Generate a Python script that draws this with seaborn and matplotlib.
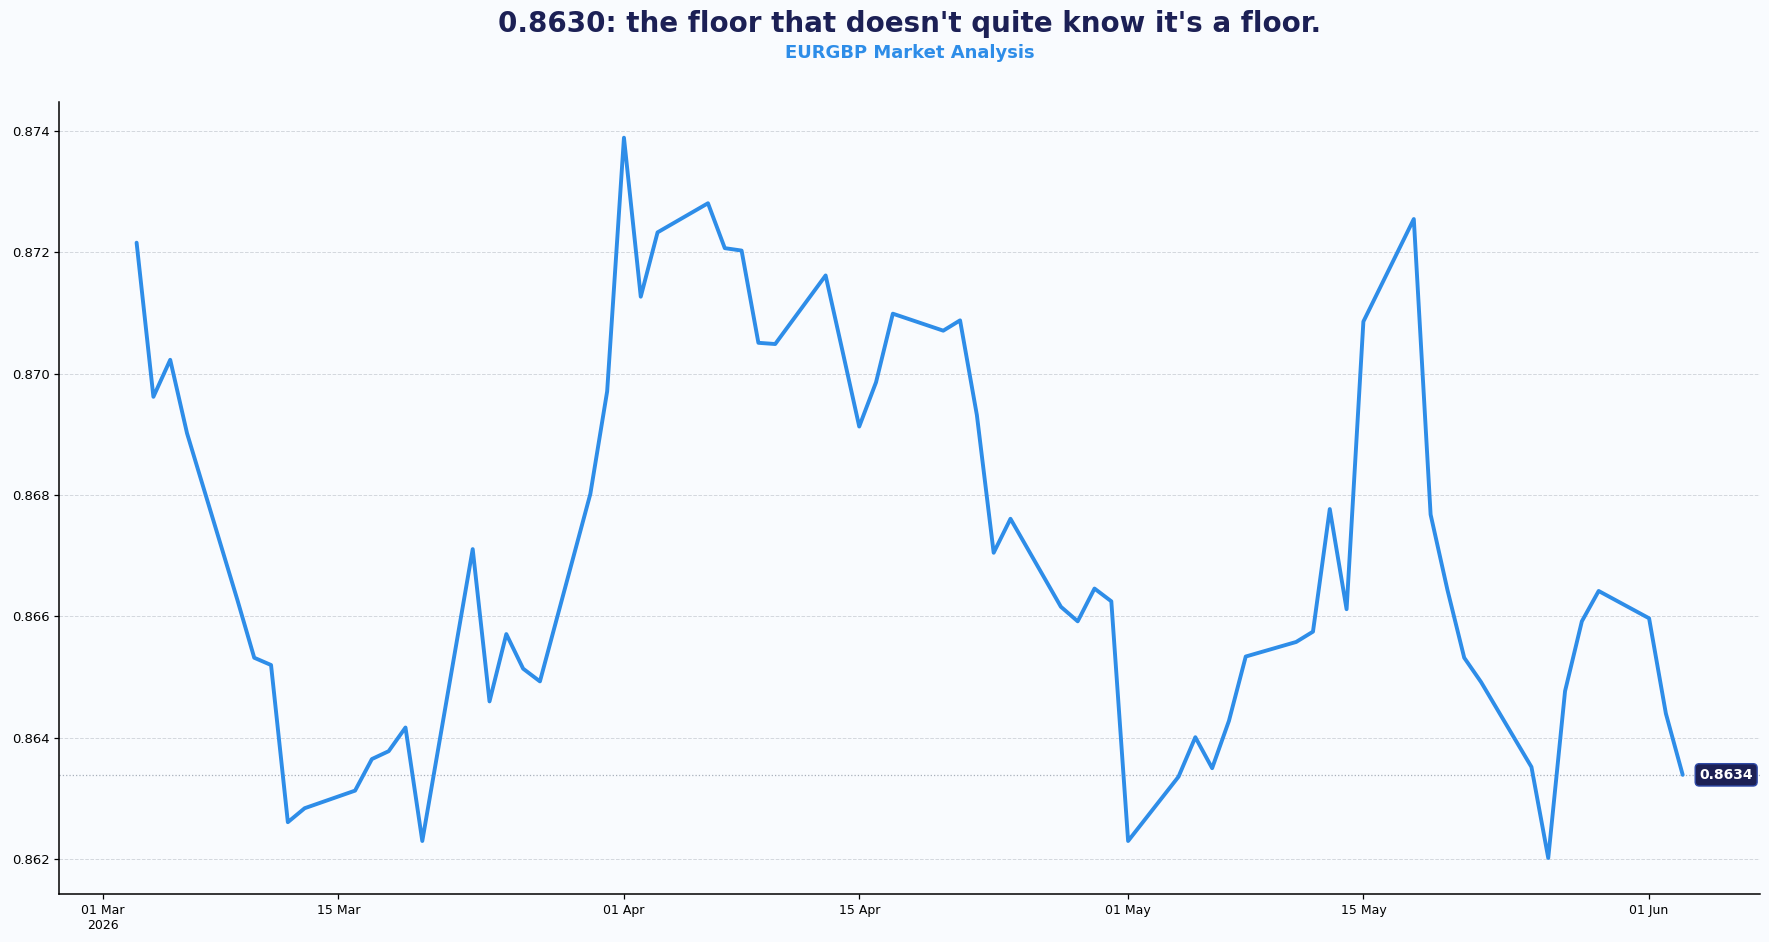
import numpy as np
import pandas as pd
import matplotlib
matplotlib.use("Agg")
import matplotlib.pyplot as plt
import matplotlib.dates as mdates
import seaborn as sns

# ---- data ----
dates = pd.bdate_range("2026-03-03", "2026-06-03")
rates = [
    0.87216, 0.86962, 0.87023, 0.86902,
    0.86627, 0.86532, 0.86520, 0.86261, 0.86284,
    0.86313, 0.86365, 0.86378, 0.86417, 0.86230,
    0.86711, 0.86460, 0.86571, 0.86514, 0.86493,
    0.86802, 0.86971, 0.87389, 0.87127, 0.87233,
    0.87281, 0.87207, 0.87203, 0.87051, 0.87049,
    0.87162, 0.87038, 0.86913, 0.86986, 0.87099,
    0.87071, 0.87088, 0.86932, 0.86705, 0.86761,
    0.86616, 0.86592, 0.86646, 0.86625, 0.86230,
    0.86336, 0.86401, 0.86350, 0.86428, 0.86534,
    0.86558, 0.86575, 0.86777, 0.86612, 0.87086,
    0.87255, 0.86768, 0.86644, 0.86532, 0.86492,
    0.86352, 0.86202, 0.86477, 0.86592, 0.86642,
    0.86597, 0.86440, 0.86339,
]
y_ticks = [0.862, 0.864, 0.866, 0.868, 0.870, 0.872, 0.874]
title = "0.8630: the floor that doesn't quite know it's a floor."
subtitle = "EURGBP Market Analysis"
last_label = "0.8634"

df = pd.DataFrame({"date": dates, "rate": rates})

# ---- style ----
BG = "#f9fbfe"
LINE = "#2e8de8"
NAVY = "#1c2055"

sns.set_theme(style="white")
plt.rcParams["font.family"] = ["DejaVu Sans"]

fig = plt.figure(figsize=(17.69, 9.42), dpi=100, facecolor=BG)
ax_pos = [0.03352, 0.05096, 0.96139, 0.84108]
ax = fig.add_axes(ax_pos)
ax.set_facecolor(BG)

sns.lineplot(data=df, x="date", y="rate", ax=ax, color=LINE, linewidth=2.8)

last_val = df["rate"].iloc[-1]
ax.axhline(last_val, color="#a9b0bb", linestyle=":", linewidth=0.9, zorder=1)

ax.annotate(last_label, xy=(df["date"].iloc[-1], last_val), xytext=(12, 0),
            textcoords="offset points", ha="left", va="center",
            fontsize=10, fontweight="bold", color="white",
            bbox=dict(boxstyle="round,pad=0.3", facecolor=NAVY,
                      edgecolor="#2f4aa8", linewidth=1))

ax.set_yticks(y_ticks)
ax.yaxis.set_major_formatter(matplotlib.ticker.FormatStrFormatter("%.3f"))
ax.grid(axis="y", color="#d3d7dd", linestyle="--", linewidth=0.7)
ax.grid(axis="x", visible=False)

ax.xaxis.set_major_locator(mdates.DayLocator(bymonthday=[1, 15]))

def fmt(x, pos):
    d = mdates.num2date(x)
    s = d.strftime("%d %b")
    if pos == 0:
        s += "\n" + d.strftime("%Y")
    return s

ax.xaxis.set_major_formatter(matplotlib.ticker.FuncFormatter(fmt))

ax.set_xlabel("")
ax.set_ylabel("")
for side in ["top", "right"]:
    ax.spines[side].set_visible(False)
for side in ["left", "bottom"]:
    ax.spines[side].set_color("black")
    ax.spines[side].set_linewidth(1.1)
ax.tick_params(axis="y", which="major", labelsize=9.5, length=3.5, width=0.9,
               color="black", labelcolor="black", left=True)
ax.tick_params(axis="x", which="major", labelsize=9, length=3.5, width=0.9,
               color="black", labelcolor="black", bottom=True)

cx = ax_pos[0] + ax_pos[2] / 2
fig.text(cx, 0.975, title, ha="center", va="center", fontsize=20,
         fontweight="bold", color=NAVY)
fig.text(cx, 0.944, subtitle, ha="center", va="center", fontsize=13,
         fontweight="bold", color=LINE)

fig.savefig("out.png", dpi=100, facecolor=BG)
